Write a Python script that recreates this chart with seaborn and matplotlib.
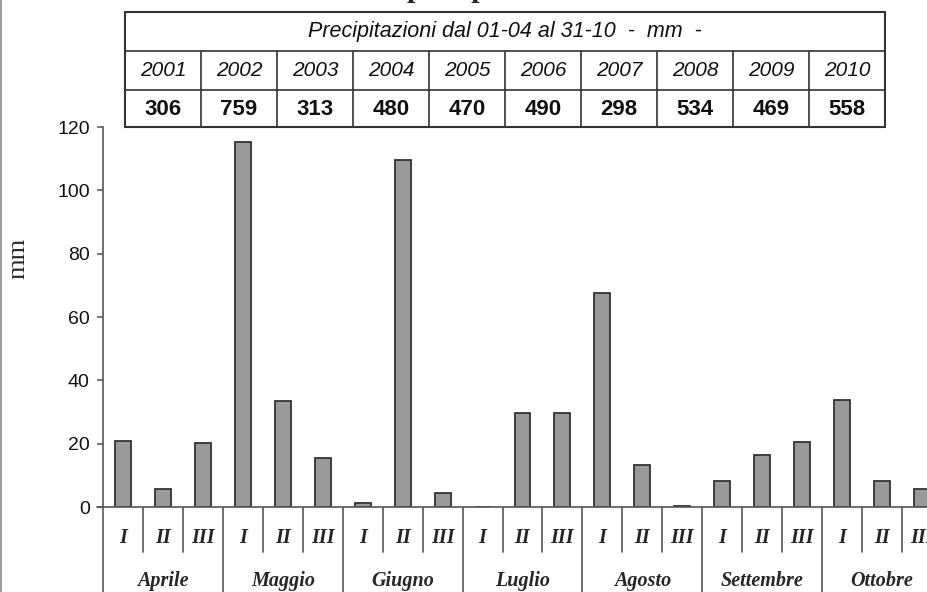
import matplotlib
matplotlib.use("Agg")
import matplotlib.pyplot as plt
from matplotlib.lines import Line2D
import matplotlib.transforms as mtransforms
import seaborn as sns
import pandas as pd

# ---- data ----
mesi = ["Aprile", "Maggio", "Giugno", "Luglio", "Agosto", "Settembre", "Ottobre"]
decadi = ["I", "II", "III"]
pioggia = [21.0, 5.6, 20.3,
           115.4, 33.6, 15.4,
           1.4, 109.6, 4.3,
           0.0, 29.8, 29.8,
           67.6, 13.3, 0.3,
           8.1, 16.4, 20.6,
           33.8, 8.1, 5.7]
anni = ["2001", "2002", "2003", "2004", "2005", "2006", "2007", "2008", "2009", "2010"]
totali = ["306", "759", "313", "480", "470", "490", "298", "534", "469", "558"]
titolo_tabella = "Precipitazioni dal 01-04 al 31-10  -  mm  -"
yticks = [0, 20, 40, 60, 80, 100, 120]

periodi = [f"{m} {d}" for m in mesi for d in decadi]
df = pd.DataFrame({"periodo": periodi, "mm": pioggia})

sns.set_style("ticks")
plt.rcParams["font.family"] = ["Liberation Sans", "DejaVu Sans"]

W, H = 928, 592
fig = plt.figure(figsize=(W / 100, H / 100), dpi=100)

def fx(x):
    return x / W

def fy(y):
    return 1 - y / H

ax_left, ax_right, ax_top, ax_bot = 103, 942, 127, 507
ax = fig.add_axes([fx(ax_left), fy(ax_bot), (ax_right - ax_left) / W, (ax_bot - ax_top) / H])

sns.barplot(data=df, x="periodo", y="mm", order=periodi, color="#999999",
            edgecolor="#333333", linewidth=1.3, width=0.4, saturation=1, ax=ax)

ax.set_xlim(-0.5, len(periodi) - 0.5)
ax.set_ylim(0, 120)
ax.set_yticks(yticks)
ax.set_yticklabels([str(t) for t in yticks], fontsize=14, color="#111111")
ax.tick_params(axis="y", direction="out", length=4.5, width=1.1, color="#555555", pad=5)
ax.tick_params(axis="x", length=0)
ax.set_xticks([])
ax.set_xlabel("")
ax.set_ylabel("")
for s in ["top", "right"]:
    ax.spines[s].set_visible(False)
for s in ["left", "bottom"]:
    ax.spines[s].set_color("#555555")
    ax.spines[s].set_linewidth(1.2)
ax.spines["left"].set_bounds(0, 120)

# y label
fig.text(fx(18), fy(258), "mm", rotation=90, ha="center", va="center",
         fontsize=19, family=["Liberation Serif", "DejaVu Serif"])

# category separators and labels under the axis
trans = mtransforms.blended_transform_factory(ax.transData, ax.transAxes)
axh = ax_bot - ax_top
n = len(periodi)
for k in range(n + 1):
    xpos = k - 0.5
    if k % 3 == 0:
        y0 = -0.3
    else:
        y0 = -(552 - 507) / axh
    ax.add_line(Line2D([xpos, xpos], [0, y0], transform=trans, color="#555555",
                       lw=1.2, clip_on=False))
ax.add_line(Line2D([-0.65, -0.5], [0, 0], transform=trans, color="#555555", lw=1.2, clip_on=False))

for i, p in enumerate(periodi):
    d = decadi[i % 3]
    ax.text(i, -(538 - 507) / axh, d, transform=trans, ha="center", va="center",
            fontsize=14.5, fontweight="bold", fontstyle="italic",
            family=["Liberation Serif", "DejaVu Serif"])
for j, m in enumerate(mesi):
    ax.text(j * 3 + 1, -(581 - 507) / axh, m, transform=trans, ha="center", va="center",
            fontsize=14.5, fontweight="bold", fontstyle="italic",
            family=["Liberation Serif", "DejaVu Serif"])

# ---- table at top ----
tl, tr = 125, 885
rows_y = [12, 51, 90, 127]
lc = "#333333"
def hline(x0, x1, y, lw=1.2):
    fig.add_artist(Line2D([fx(x0), fx(x1)], [fy(y), fy(y)], transform=fig.transFigure, color=lc, lw=lw))
def vline(x, y0, y1, lw=1.2):
    fig.add_artist(Line2D([fx(x), fx(x)], [fy(y0), fy(y1)], transform=fig.transFigure, color=lc, lw=lw))

for y in rows_y:
    hline(tl, tr, y, lw=1.5 if y in (rows_y[0], rows_y[-1]) else 1.2)
vline(tl, rows_y[0], rows_y[-1], lw=1.5)
vline(tr, rows_y[0], rows_y[-1], lw=1.5)
ncol = len(anni)
cw = (tr - tl) / ncol
for c in range(1, ncol):
    vline(tl + c * cw, rows_y[1], rows_y[-1])

fig.text(fx((tl + tr) / 2), fy((rows_y[0] + rows_y[1]) / 2), titolo_tabella,
         ha="center", va="center", fontsize=15.5, fontstyle="italic", color="#111111")
for c in range(ncol):
    cx = tl + (c + 0.5) * cw
    fig.text(fx(cx), fy((rows_y[1] + rows_y[2]) / 2), anni[c], ha="center", va="center",
             fontsize=15, fontstyle="italic", color="#111111")
    fig.text(fx(cx), fy((rows_y[2] + rows_y[3]) / 2 + 1), totali[c], ha="center", va="center",
             fontsize=16, fontweight="bold", color="#111111")

# ---- title (cropped at the top of the picture) ----
fig.text(fx(407), 1 + 3.5 / H, "Andamento delle ", ha="right", va="baseline",
         fontsize=21.6, fontweight="bold", family=["Liberation Serif", "DejaVu Serif"])
fig.text(fx(407), 1 + 3.5 / H, "precipitazioni 2010", ha="left", va="baseline",
         fontsize=21.6, fontweight="bold", family=["Liberation Serif", "DejaVu Serif"])

# left border of the picture
fig.add_artist(Line2D([fx(1.5), fx(1.5)], [0, 1], transform=fig.transFigure, color="#888888", lw=1.2))

fig.savefig("out.png", dpi=100)
